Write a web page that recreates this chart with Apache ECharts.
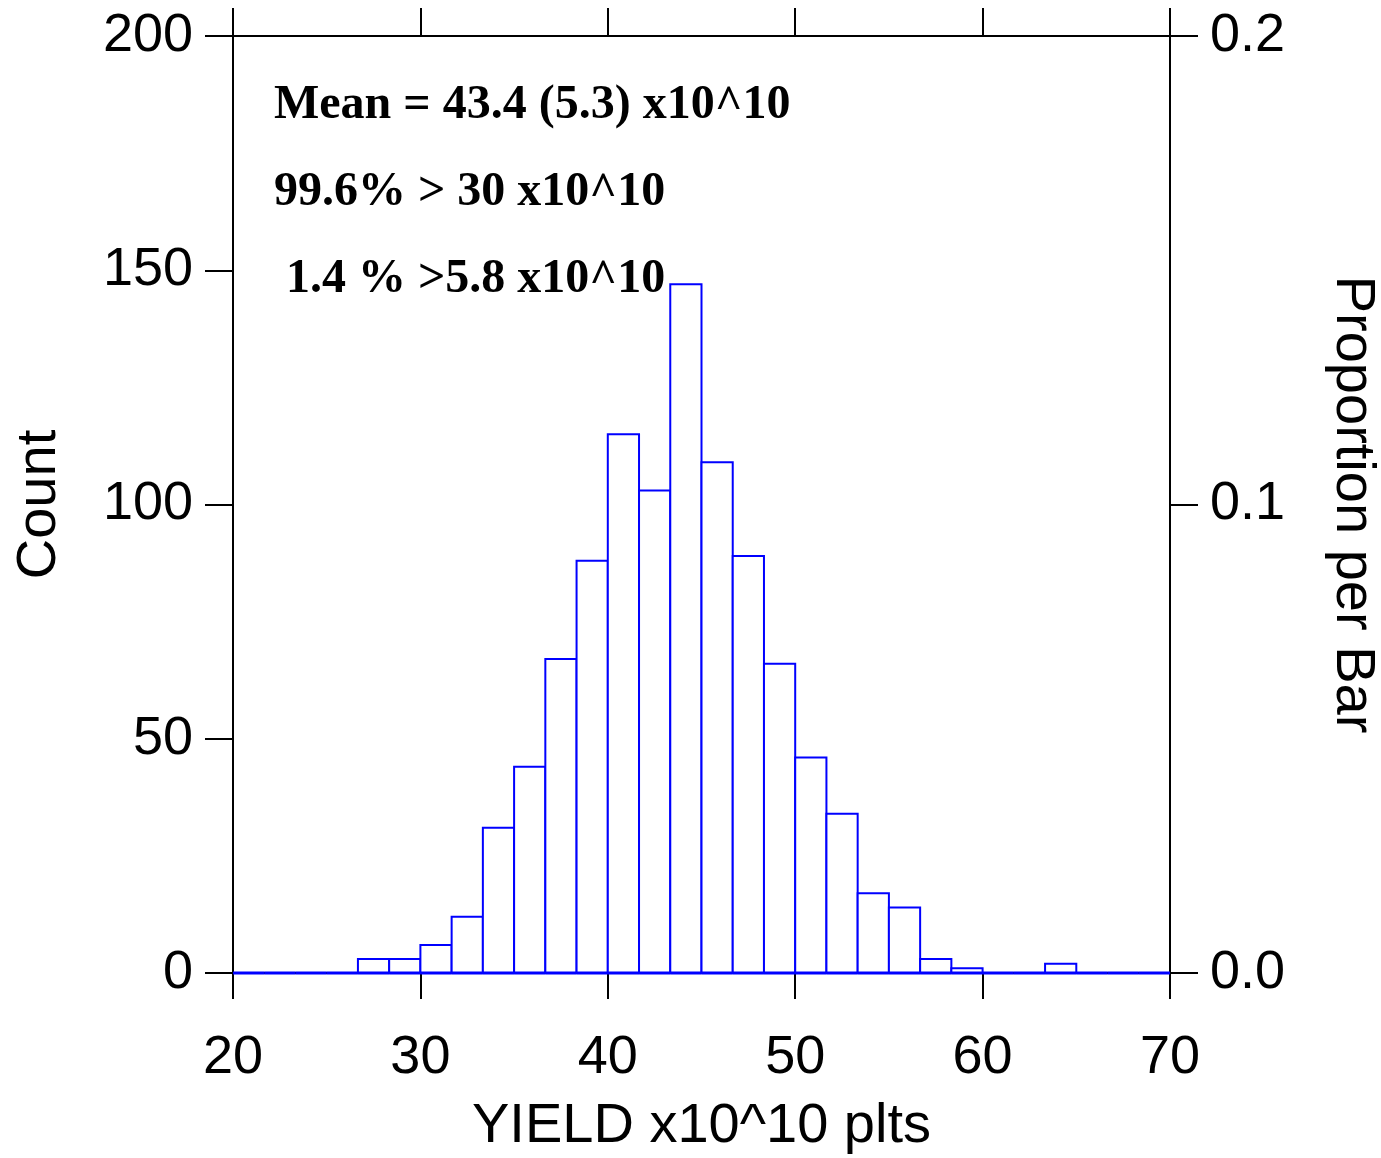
<!DOCTYPE html>
<html>
<head>
<meta charset="utf-8">
<script src="https://cdn.jsdelivr.net/npm/echarts@6/dist/echarts.min.js"></script>
<style>
  html, body { margin: 0; padding: 0; background: #fff; }
  #main { width: 1381px; height: 1158px; }
</style>
</head>
<body>
<div id="main"></div>
<script>
// histogram bins, 20..70 in steps of 5/3
var binStart = 20;
var binWidth = 5 / 3;
var counts = [0, 0, 0, 0, 3, 3, 6, 12, 31, 44, 67, 88, 115, 103, 147, 109, 89, 66, 46, 34, 17, 14, 3, 1, 0, 0, 2, 0, 0, 0];
var xTicks = [20, 30, 40, 50, 60, 70];
var notes = ['Mean = 43.4 (5.3) x10^10', '99.6% > 30 x10^10', ' 1.4 % >5.8 x10^10'];

var total = counts.reduce(function (a, b) { return a + b; }, 0);
var bins = counts.map(function (c, i) {
  return [binStart + i * binWidth, binStart + (i + 1) * binWidth, c];
});

var blue = '#0000ff';
var sans = 'Liberation Sans';

var myChart = echarts.init(document.getElementById('main'));

var axisLineStyle = { color: '#000', width: 2 };

var option = {
  animation: false,
  backgroundColor: '#fff',
  grid: { left: 233, right: 211, top: 36, bottom: 185, containLabel: false, outerBoundsMode: 'none' },
  xAxis: [
    {
      type: 'value', position: 'bottom', min: xTicks[0], max: xTicks[xTicks.length - 1], interval: 10,
      name: 'YIELD x10^10 plts', nameLocation: 'middle', nameGap: 126,
      nameTextStyle: { fontFamily: sans, fontSize: 56, color: '#000' },
      axisLine: { show: true, onZero: false, lineStyle: axisLineStyle },
      axisTick: { show: true, inside: false, length: 26, lineStyle: axisLineStyle },
      axisLabel: { margin: 58, fontFamily: sans, fontSize: 54, color: '#000' },
      splitLine: { show: false }
    },
    {
      type: 'value', position: 'top', min: xTicks[0], max: xTicks[xTicks.length - 1], interval: 10,
      axisLine: { show: true, onZero: false, lineStyle: axisLineStyle },
      axisTick: { show: true, inside: false, length: 28, lineStyle: axisLineStyle },
      axisLabel: { show: false },
      splitLine: { show: false }
    }
  ],
  yAxis: [
    {
      type: 'value', position: 'left', min: 0, max: 200, interval: 50,
      name: 'Count', nameLocation: 'middle', nameGap: 165, nameRotate: 90,
      nameTextStyle: { fontFamily: sans, fontSize: 56, color: '#000' },
      axisLine: { show: true, onZero: false, lineStyle: axisLineStyle },
      axisTick: { show: true, inside: false, length: 28, lineStyle: axisLineStyle },
      axisLabel: { margin: 40, fontFamily: sans, fontSize: 54, color: '#000' },
      splitLine: { show: false }
    },
    {
      type: 'value', position: 'right', min: 0, max: 200 / total, interval: 100 / total,
      name: 'Proportion per Bar', nameLocation: 'middle', nameGap: 154, nameRotate: -90,
      nameTextStyle: { fontFamily: sans, fontSize: 56, color: '#000' },
      axisLine: { show: true, onZero: false, lineStyle: axisLineStyle },
      axisTick: { show: true, inside: false, length: 28, lineStyle: axisLineStyle },
      axisLabel: {
        margin: 40, fontFamily: sans, fontSize: 54, color: '#000',
        formatter: function (v) { return v.toFixed(1); }
      },
      splitLine: { show: false }
    }
  ],
  graphic: notes.map(function (t, i) {
    return {
      type: 'text', left: 274, top: 82 + i * 87, z: 10,
      style: { text: t, fontFamily: 'Liberation Serif', fontWeight: 'bold', fontSize: 48, fill: '#000' }
    };
  }),
  series: [
    {
      type: 'custom',
      xAxisIndex: 0, yAxisIndex: 0,
      encode: { x: [0, 1], y: 2 },
      data: bins,
      renderItem: function (params, api) {
        var x0 = api.value(0), x1 = api.value(1), c = api.value(2);
        var p0 = api.coord([x0, 0]);
        var p1 = api.coord([x1, c]);
        var children = [];
        if (c > 0) {
          children.push({
            type: 'rect',
            shape: { x: p0[0], y: p1[1], width: p1[0] - p0[0], height: p0[1] - p1[1] },
            style: { fill: '#fff', stroke: blue, lineWidth: 2 }
          });
        }
        children.push({
          type: 'line',
          shape: { x1: p0[0], y1: p0[1], x2: p1[0], y2: p0[1] },
          style: { stroke: blue, lineWidth: 3 }
        });
        return { type: 'group', children: children };
      }
    }
  ]
};

option && myChart.setOption(option);
</script>
</body>
</html>
